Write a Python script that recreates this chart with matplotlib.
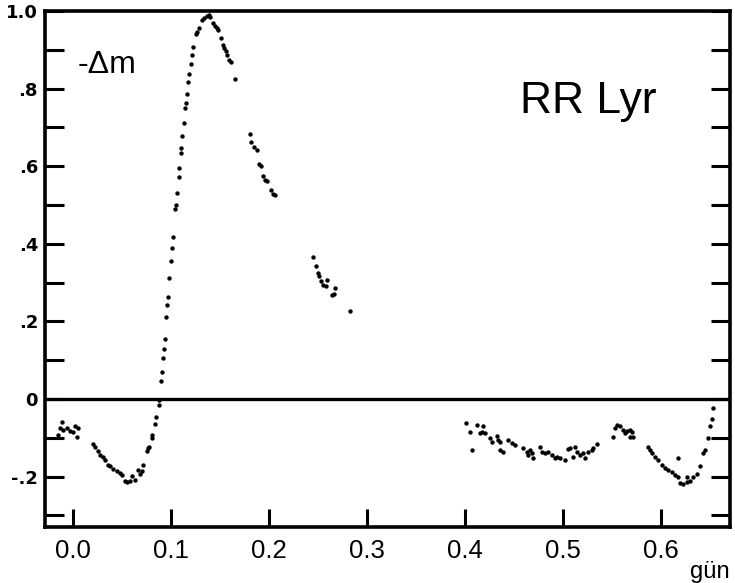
import numpy as np
import matplotlib.pyplot as plt

# RR Lyr light curve: phase (days) vs -delta m
min1_t = [-0.0148, -0.0131, -0.0113, -0.0097, -0.0064, -0.0029, 0.0005, 0.0022, 0.0040, 0.0056,
          0.0209, 0.0227, 0.0260, 0.0278, 0.0311, 0.0329, 0.0356, 0.0380, 0.0413, 0.0448,
          0.0482, 0.0505, 0.0533, 0.0550, 0.0584, 0.0607, 0.0635, 0.0668, 0.0686, 0.0703,
          0.0719, 0.0760, 0.0770, 0.0778, 0.0805, 0.0811, 0.0839, 0.0849, 0.0880]
min1_m = [-0.093, -0.076, -0.059, -0.080, -0.076, -0.082, -0.084, -0.071, -0.097, -0.076,
          -0.117, -0.123, -0.134, -0.144, -0.149, -0.157, -0.170, -0.174, -0.180, -0.186,
          -0.191, -0.196, -0.211, -0.215, -0.211, -0.198, -0.209, -0.183, -0.193, -0.187,
          -0.170, -0.134, -0.127, -0.123, -0.100, -0.093, -0.065, -0.046, -0.015]

rise_t = [0.0881, 0.0897, 0.0910, 0.0920, 0.0928, 0.0941, 0.0954, 0.0964, 0.0971, 0.0985,
          0.0999, 0.1009, 0.1019, 0.1040, 0.1050, 0.1060, 0.1081, 0.1087, 0.1104, 0.1107,
          0.1117, 0.1132, 0.1145, 0.1155, 0.1165, 0.1179, 0.1186, 0.1203, 0.1216, 0.1230,
          0.1257, 0.1267, 0.1285, 0.1315, 0.1339, 0.1366, 0.1387, 0.1400]
rise_m = [-0.003, 0.046, 0.070, 0.106, 0.128, 0.155, 0.212, 0.243, 0.262, 0.313,
          0.356, 0.388, 0.418, 0.489, 0.501, 0.530, 0.572, 0.595, 0.634, 0.647,
          0.678, 0.711, 0.750, 0.763, 0.786, 0.817, 0.838, 0.863, 0.887, 0.907,
          0.941, 0.946, 0.956, 0.977, 0.982, 0.987, 0.990, 0.985]

fall_t = [0.1434, 0.1451, 0.1468, 0.1484, 0.1509, 0.1530, 0.1546, 0.1563, 0.1577, 0.1597,
          0.1611, 0.1655, 0.1805, 0.1818, 0.1849, 0.1876, 0.1900, 0.1920, 0.1944, 0.1961,
          0.1982, 0.2022, 0.2044, 0.2063, 0.2451, 0.2479, 0.2499, 0.2512, 0.2533, 0.2556,
          0.2581, 0.2591, 0.2646, 0.2667, 0.2674, 0.2829]
fall_m = [0.969, 0.962, 0.955, 0.950, 0.930, 0.912, 0.904, 0.898, 0.887, 0.874,
          0.868, 0.825, 0.682, 0.663, 0.649, 0.641, 0.605, 0.601, 0.576, 0.564,
          0.563, 0.539, 0.528, 0.525, 0.367, 0.343, 0.324, 0.318, 0.305, 0.294,
          0.291, 0.307, 0.268, 0.271, 0.287, 0.226]

min2_t = [0.4012, 0.4053, 0.4070, 0.4121, 0.4155, 0.4172, 0.4189, 0.4206, 0.4257, 0.4274,
          0.4326, 0.4342, 0.4359, 0.4359, 0.4393, 0.4444, 0.4479, 0.4512, 0.4597, 0.4632,
          0.4648, 0.4665, 0.4681, 0.4699, 0.4767, 0.4785, 0.4818, 0.4852, 0.4887, 0.4920,
          0.4936, 0.4971, 0.5022, 0.5055, 0.5071, 0.5107, 0.5124, 0.5140, 0.5175, 0.5208,
          0.5224, 0.5258, 0.5293, 0.5311, 0.5350,
          0.5513, 0.5531, 0.5548, 0.5582, 0.5617, 0.5633, 0.5650, 0.5686, 0.5703, 0.5684,
          0.5719,
          0.5872, 0.5890, 0.5907, 0.5941, 0.5974, 0.6009, 0.6043, 0.6077, 0.6111, 0.6145,
          0.6172, 0.6179, 0.6196, 0.6230, 0.6264, 0.6264, 0.6298, 0.6332, 0.6366, 0.6400,
          0.6434, 0.6451, 0.6485, 0.6502, 0.6519, 0.6536]
min2_m = [-0.063, -0.084, -0.131, -0.067, -0.088, -0.084, -0.070, -0.087, -0.101, -0.110,
          -0.095, -0.106, -0.110, -0.131, -0.137, -0.106, -0.114, -0.119, -0.127, -0.136,
          -0.144, -0.131, -0.140, -0.153, -0.123, -0.138, -0.140, -0.136, -0.144, -0.153,
          -0.149, -0.153, -0.157, -0.130, -0.127, -0.150, -0.124, -0.136, -0.144, -0.140,
          -0.153, -0.136, -0.131, -0.127, -0.117,
          -0.097, -0.076, -0.067, -0.071, -0.080, -0.088, -0.082, -0.080, -0.084, -0.097,
          -0.097,
          -0.123, -0.131, -0.140, -0.149, -0.157, -0.170, -0.177, -0.183, -0.189, -0.196,
          -0.151, -0.200, -0.217, -0.220, -0.215, -0.200, -0.211, -0.200, -0.194, -0.172,
          -0.140, -0.131, -0.101, -0.071, -0.052, -0.024]

x_ticks = [0.0, 0.1, 0.2, 0.3, 0.4, 0.5, 0.6]
x_labels = ['0.0', '0.1', '0.2', '0.3', '0.4', '0.5', '0.6']
y_major = [-0.2, 0.0, 0.2, 0.4, 0.6, 0.8, 1.0]
y_labels = ['-.2', '0', '.2', '.4', '.6', '.8', '1.0']
y_minor = [-0.3, -0.1, 0.1, 0.3, 0.5, 0.7, 0.9]

fig = plt.figure(figsize=(7.35, 5.83), dpi=100)
ax = fig.add_axes([0.0612, 0.0961, 0.9320, 0.8850])

for t, m in [(min1_t, min1_m), (rise_t, rise_m), (fall_t, fall_m), (min2_t, min2_m)]:
    ax.scatter(t, m, s=10, color='black', linewidths=0, zorder=3)

ax.axhline(0, color='black', lw=2.4, zorder=2)

ax.set_xlim(-0.0284, 0.6706)
ax.set_ylim(-0.33, 1.0)

for sp in ax.spines.values():
    sp.set_linewidth(2.6)

ax.set_xticks(x_ticks, x_labels, fontsize=18.5, family='Liberation Sans')
ax.set_yticks(y_major, y_labels, fontsize=13, fontweight='bold')
ax.set_yticks(y_minor, minor=True)
ax.tick_params(axis='x', direction='in', length=13, width=2.2, pad=9)
ax.tick_params(axis='y', which='both', direction='in', length=14, width=2.2,
               right=True, pad=5)

ax.text(0.047, 0.88, '-\u0394m', transform=ax.transAxes, fontsize=23,
        family='Liberation Sans', va='baseline')
ax.text(0.693, 0.802, 'RR Lyr', transform=ax.transAxes, fontsize=32,
        family='Liberation Sans', va='baseline')
fig.text(0.939, 0.009, 'g\u00fcn', fontsize=17, family='Liberation Sans', va='baseline')

fig.savefig('out.png', dpi=100)
